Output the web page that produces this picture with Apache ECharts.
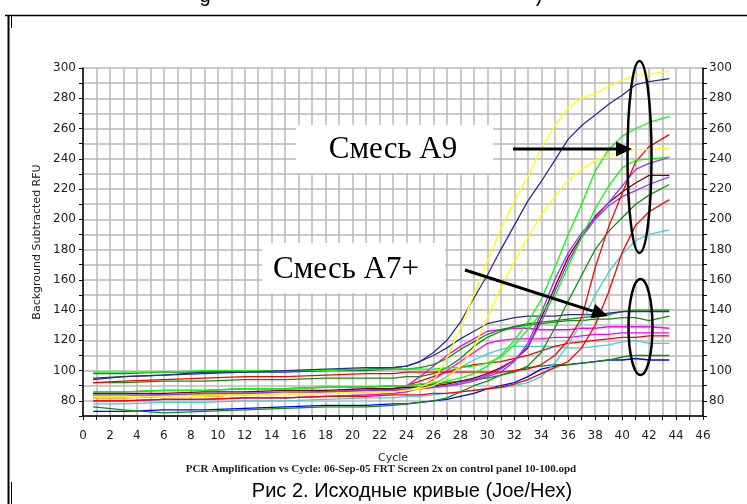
<!DOCTYPE html>
<html>
<head>
<meta charset="utf-8">
<script src="https://cdn.jsdelivr.net/npm/echarts@6/dist/echarts.min.js"></script>
<style type="text/css">
    html, body { margin: 0; padding: 0; background: #fff; }
    #chart { width: 747px; height: 504px; }
</style>
</head>
<body>
<div id="chart"></div>
<script type="text/javascript">
var cycles = [0.75, 3, 6, 9, 12, 15, 18, 21, 23, 24, 25, 26, 27, 28, 29, 30, 31, 32, 33, 34, 35, 36, 37, 38, 39, 40, 41, 42, 43.5];

// upper group (mix A9)
var yellowHigh  = [82, 82, 83, 83, 84, 84, 85, 85, 86, 87, 89, 93, 108, 128, 150, 172, 194, 212, 228, 247, 262, 274, 280, 283, 288, 292, 295, 296, 298];
var navyHigh    = [94, 96, 97, 99, 99, 100, 101, 102, 102, 103, 106, 112, 120, 132, 148, 163, 180, 196, 212, 225, 239, 253, 262, 269, 276, 282, 289, 291, 293];
var yellowMid   = [83, 83, 83, 84, 84, 85, 85, 86, 86, 87, 88, 90, 95, 103, 115, 135, 155, 172, 188, 203, 215, 226, 233, 239, 242, 245, 246, 246, 247];
var greenA      = [86, 86, 87, 87, 88, 88, 89, 89, 90, 90, 91, 92, 93, 95, 98, 103, 110, 120, 132, 147, 168, 190, 210, 232, 246, 255, 260, 264, 268];
var greenB      = [99, 99, 99, 100, 100, 100, 100, 101, 101, 101, 101, 101, 102, 102, 103, 105, 109, 117, 127, 138, 149, 169, 188, 207, 222, 234, 239, 240, 241];
var purpleA     = [84, 84, 84, 85, 85, 86, 86, 87, 87, 88, 88, 89, 90, 91, 93, 96, 99, 106, 118, 138, 160, 178, 191, 201, 211, 222, 233, 237, 241];
var purpleB     = [83, 83, 84, 84, 85, 85, 86, 86, 87, 87, 88, 89, 90, 92, 94, 97, 101, 107, 116, 132, 152, 172, 188, 200, 209, 215, 219, 223, 228];
var brownA      = [85, 85, 85, 86, 86, 87, 87, 88, 88, 89, 89, 90, 91, 93, 95, 98, 102, 107, 115, 135, 155, 175, 189, 202, 211, 218, 224, 229, 229];
var darkGreenA  = [86, 86, 87, 87, 88, 88, 89, 89, 90, 90, 91, 91, 92, 93, 94, 95, 97, 99, 103, 112, 128, 146, 163, 180, 192, 201, 210, 216, 223];
var redA        = [92, 93, 94, 95, 96, 96, 97, 98, 98, 99, 99, 99, 99, 99, 99, 99, 99, 100, 101, 104, 110, 120, 135, 168, 195, 217, 238, 248, 256];
var redB        = [80, 80, 81, 81, 82, 82, 83, 83, 84, 84, 84, 85, 85, 86, 87, 88, 89, 91, 94, 98, 102, 106, 115, 130, 152, 178, 196, 205, 213];
var cyanA       = [78, 78, 79, 79, 80, 80, 81, 82, 82, 83, 83, 84, 85, 86, 87, 88, 89, 90, 92, 96, 105, 117, 132, 150, 165, 177, 186, 190, 193];

// lower group (mix A7+)
var navyLow     = [95, 96, 97, 98, 99, 99, 100, 101, 102, 103, 106, 110, 115, 121, 126, 131, 133, 135, 136, 136, 136, 137, 137, 137, 138, 139, 139, 139, 139];
var darkGreenB  = [98, 98, 99, 99, 100, 100, 100, 100, 101, 101, 102, 104, 108, 114, 119, 124, 127, 129, 131, 132, 133, 134, 135, 136, 137, 139, 140, 140, 140];
var darkGreenC  = [92, 92, 93, 93, 94, 94, 95, 95, 95, 96, 96, 98, 102, 108, 116, 122, 126, 129, 130, 131, 132, 133, 133, 134, 134, 135, 135, 133, 136];
var magentaA    = [83, 83, 84, 84, 85, 85, 86, 87, 88, 90, 96, 103, 110, 116, 121, 126, 127, 128, 128, 127, 127, 127, 128, 128, 129, 129, 129, 129, 128];
var magentaB    = [80, 80, 81, 81, 82, 82, 83, 84, 85, 86, 89, 94, 100, 106, 112, 118, 120, 121, 121, 121, 122, 122, 123, 124, 124, 125, 125, 125, 125];
var redC        = [82, 82, 83, 83, 84, 85, 86, 87, 88, 90, 93, 96, 99, 102, 104, 105, 106, 108, 110, 113, 116, 118, 119, 120, 121, 122, 122, 123, 123];
var cyanB       = [80, 80, 81, 81, 82, 82, 83, 84, 85, 86, 88, 91, 96, 102, 107, 111, 114, 116, 116, 116, 116, 115, 115, 116, 117, 119, 120, 118, 118];
var darkGreenD  = [76, 74, 72, 73, 74, 75, 76, 76, 77, 78, 79, 80, 82, 86, 90, 93, 97, 100, 102, 103, 104, 104, 105, 106, 107, 109, 110, 110, 110];
var blueLow     = [73, 73, 74, 74, 75, 76, 77, 77, 78, 78, 79, 80, 81, 83, 85, 88, 90, 92, 96, 101, 103, 104, 105, 106, 107, 107, 108, 107, 107];

var curves = [
    [blueLow, '#0000ff'], [darkGreenD, '#108c10'], [cyanB, '#40d0d0'], [redC, '#ff0000'],
    [magentaB, '#ff00ff'], [magentaA, '#ff00ff'], [darkGreenC, '#108c10'], [darkGreenB, '#108c10'],
    [navyLow, '#2c2c98'], [cyanA, '#40d0d0'], [redB, '#ff0000'], [darkGreenA, '#108c10'],
    [brownA, '#800000'], [purpleB, '#9933ff'], [purpleA, '#9933ff'], [redA, '#ff0000'],
    [greenB, '#00ff00'], [greenA, '#00ff00'], [yellowMid, '#ffff00'], [navyHigh, '#2c2c98'],
    [yellowHigh, '#ffff00']
];

function toSeries(vals, color) {
    return {
        type: 'line',
        data: cycles.map(function (c, i) { return [c, vals[i]]; }),
        showSymbol: false,
        symbol: 'none',
        silent: true,
        lineStyle: { color: color, width: 1.3 },
        z: 3
    };
}

function arrow(x1, y1, x2, y2) {
    var dx = x2 - x1, dy = y2 - y1, len = Math.sqrt(dx * dx + dy * dy);
    var ux = dx / len, uy = dy / len, hl = 16, hw = 7.5;
    var bx = x2 - ux * hl, by = y2 - uy * hl;
    return [
        { type: 'line', z: 100, shape: { x1: x1, y1: y1, x2: bx, y2: by },
          style: { stroke: '#000', lineWidth: 3 } },
        { type: 'polygon', z: 100,
          shape: { points: [[x2, y2], [bx - uy * hw, by + ux * hw], [bx + uy * hw, by - ux * hw]] },
          style: { fill: '#000' } }
    ];
}

var gridColor = '#b9b9b9';
var labelFont = { fontFamily: 'DejaVu Sans', fontSize: 12, color: '#222' };

var graphics = [
    // page frame of the scanned document
    { type: 'line', shape: { x1: 5, y1: 15.5, x2: 747, y2: 15.5 }, style: { stroke: '#000', lineWidth: 1.5 } },
    { type: 'line', shape: { x1: 8.5, y1: 15, x2: 8.5, y2: 504 }, style: { stroke: '#000', lineWidth: 2 } },
    { type: 'line', shape: { x1: 11.5, y1: 15, x2: 11.5, y2: 28 }, style: { stroke: '#000', lineWidth: 1 } },
    { type: 'line', shape: { x1: 11.5, y1: 482, x2: 11.5, y2: 504 }, style: { stroke: '#000', lineWidth: 1 } },
    { type: 'text', style: { x: 205, y: 6, text: 'g', fontFamily: 'Liberation Sans', fontSize: 20, fill: '#000', align: 'center', verticalAlign: 'bottom' } },
    { type: 'text', style: { x: 539, y: 6, text: ')', fontFamily: 'Liberation Sans', fontSize: 20, fill: '#000', align: 'center', verticalAlign: 'bottom' } },

    // annotation boxes
    { type: 'rect', z: 90, shape: { x: 296, y: 125, width: 197, height: 48 }, style: { fill: '#fff' } },
    { type: 'text', z: 100, style: { x: 393, y: 150, text: 'Смесь A9', fontFamily: 'Liberation Serif', fontSize: 31, fill: '#000', align: 'center', verticalAlign: 'middle' } },
    { type: 'rect', z: 90, shape: { x: 262, y: 243, width: 183, height: 50 }, style: { fill: '#fff' } },
    { type: 'text', z: 100, style: { x: 346, y: 270, text: 'Смесь A7+', fontFamily: 'Liberation Serif', fontSize: 31, fill: '#000', align: 'center', verticalAlign: 'middle' } },

    // ellipses around the plateaus
    { type: 'ellipse', z: 100, shape: { cx: 639.5, cy: 157, rx: 12, ry: 96 }, style: { fill: null, stroke: '#000', lineWidth: 2.5 } },
    { type: 'ellipse', z: 100, shape: { cx: 640.5, cy: 327, rx: 12, ry: 48 }, style: { fill: null, stroke: '#000', lineWidth: 2.5 } },

    // captions below the plot
    { type: 'text', style: { x: 381, y: 469, text: 'PCR Amplification vs Cycle: 06-Sep-05 FRT Screen 2x on control panel 10-100.opd',
        fontFamily: 'Liberation Serif', fontSize: 11, fontWeight: 'bold', fill: '#222', align: 'center', verticalAlign: 'middle' } },
    { type: 'text', style: { x: 412, y: 481, text: 'Рис 2. Исходные кривые (Joe/Hex)',
        fontFamily: 'Liberation Sans', fontSize: 20, fill: '#000', align: 'center', verticalAlign: 'top' } }
].concat(arrow(513, 149, 632, 149)).concat(arrow(465, 270, 608, 316));

var option = {
    animation: false,
    backgroundColor: '#fff',
    grid: { left: 83, right: 44, top: 68, bottom: 88 },
    xAxis: {
        type: 'value', min: 0, max: 46, interval: 1,
        name: 'Cycle', nameLocation: 'middle', nameGap: 37,
        nameTextStyle: { fontFamily: 'DejaVu Sans', fontSize: 11, color: '#222' },
        axisLine: { lineStyle: { color: '#000', width: 1.5 } },
        axisTick: { length: 4, lineStyle: { color: '#000' } },
        axisLabel: Object.assign({ margin: 14, formatter: function (v) { return v % 2 === 0 ? String(v) : ''; } }, labelFont),
        splitLine: { show: true, lineStyle: { color: gridColor, width: 1.5 } }
    },
    yAxis: [{
        type: 'value', position: 'left', min: 70, max: 300, interval: 10,
        name: 'Background Subtracted RFU', nameLocation: 'middle', nameRotate: 90, nameGap: 40,
        nameTextStyle: { fontFamily: 'DejaVu Sans', fontSize: 11, color: '#222' },
        axisLine: { show: true, lineStyle: { color: '#000', width: 1.5 } },
        axisTick: { show: true, length: 4, lineStyle: { color: '#000' } },
        axisLabel: Object.assign({ margin: 7, formatter: function (v) { return v % 20 === 0 ? String(v) : ''; } }, labelFont),
        splitLine: { show: true, lineStyle: { color: gridColor, width: 1.5 } }
    }, {
        type: 'value', position: 'right', min: 70, max: 300, interval: 10,
        axisLine: { show: true, lineStyle: { color: '#000', width: 1.5 } },
        axisTick: { show: true, length: 4, lineStyle: { color: '#000' } },
        axisLabel: Object.assign({ margin: 6, formatter: function (v) { return v % 20 === 0 ? String(v) : ''; } }, labelFont),
        splitLine: { show: false }
    }],
    series: curves.map(function (c) { return toSeries(c[0], c[1]); }),
    graphic: graphics
};

var myChart = echarts.init(document.getElementById('chart'), null, { renderer: 'canvas' });
myChart.setOption(option);
</script>
</body>
</html>
